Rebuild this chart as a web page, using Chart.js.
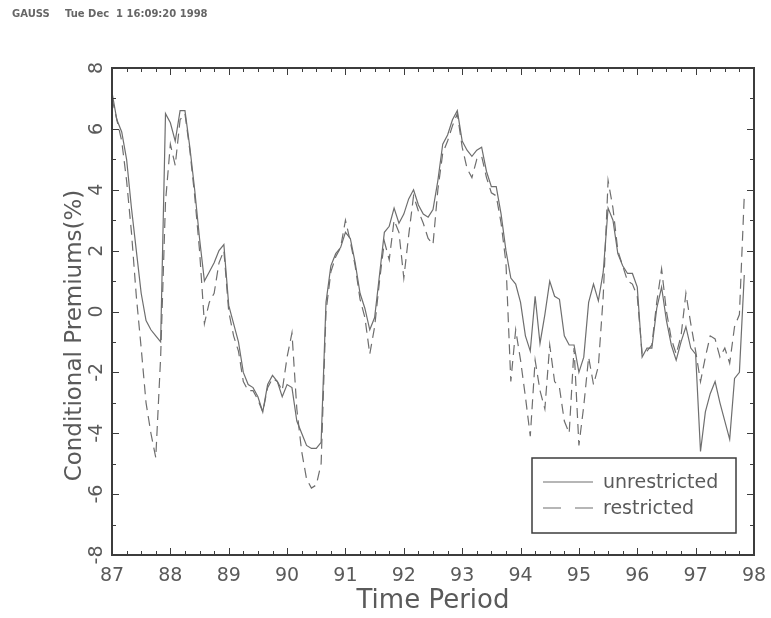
<!DOCTYPE html>
<html>
<head>
<meta charset="utf-8">
<title>Conditional Premiums</title>
<script src="https://cdn.jsdelivr.net/npm/chart.js@4.4.1/dist/chart.umd.min.js"></script>
<style>
    body { margin: 0; background: #fff; }
    #wrap { position: relative; width: 771px; height: 618px; }
    .stamp { position: absolute; top: 8px; font: bold 10px "DejaVu Sans", sans-serif; color: #666; white-space: pre; }
</style>
</head>
<body>
<div id="wrap">
    <canvas id="premiumChart" width="771" height="618"></canvas>
    <div class="stamp" style="left: 12px;">GAUSS</div>
    <div class="stamp" style="left: 65px;">Tue Dec  1 16:09:20 1998</div>
</div>
<script>
// Monthly conditional premiums (%), starting Jan 1987
const startYear = 87;

const unrestricted = [
    7.2, 6.3, 5.9, 5.0, 3.4, 2.0, 0.6, -0.3, -0.6, -0.8, -1.0, 6.5,
    6.2, 5.6, 6.6, 6.6, 5.4, 4.0, 2.4, 1.0, 1.3, 1.6, 2.0, 2.2,
    0.2, -0.4, -1.0, -2.0, -2.4, -2.5, -2.8, -3.3, -2.4, -2.1, -2.3, -2.8,
    -2.4, -2.5, -3.6, -4.0, -4.4, -4.5, -4.5, -4.3, 0.3, 1.5, 1.9, 2.1,
    2.6, 2.4, 1.6, 0.6, 0.1, -0.6, -0.2, 1.2, 2.6, 2.8, 3.4, 2.9,
    3.2, 3.7, 4.0, 3.5, 3.2, 3.1, 3.35, 4.3, 5.5, 5.8, 6.3, 6.6,
    5.6, 5.3, 5.1, 5.3, 5.4, 4.6, 4.1, 4.1, 3.2, 2.0, 1.1, 0.9,
    0.3, -0.8, -1.3, 0.5, -1.05, -0.1, 1.0, 0.5, 0.4, -0.8, -1.1, -1.1,
    -2.0, -1.5, 0.3, 0.9, 0.35, 1.3, 3.4, 3.0, 1.9, 1.5, 1.25, 1.25,
    0.8, -1.5, -1.2, -1.2, 0.1, 0.8, -0.3, -1.1, -1.6, -1.0, -0.5, -1.2,
    -1.4, -4.6, -3.3, -2.7, -2.3, -3.0, -3.6, -4.2, -2.2, -2.0, 1.2
];

const restricted = [
    7.0, 6.3, 5.6, 4.3, 2.6, 0.5, -1.2, -3.0, -4.0, -4.8, -1.5, 3.6,
    5.5, 4.8, 6.3, 6.5, 5.3, 3.8, 2.0, -0.4, 0.3, 0.6, 1.6, 2.0,
    0.0, -0.8, -1.3, -2.3, -2.6, -2.6, -2.9, -3.3, -2.5, -2.2, -2.3, -2.6,
    -1.5, -0.7, -3.2, -4.6, -5.5, -5.8, -5.7, -5.0, 0.0, 1.3, 1.8, 2.1,
    3.0, 2.3, 1.5, 0.4, -0.2, -1.4, -0.5, 1.0, 2.3, 1.7, 3.0, 2.6,
    1.1, 2.5, 3.8, 3.3, 2.9, 2.4, 2.2, 4.0, 5.2, 5.6, 6.1, 6.5,
    5.4, 4.7, 4.4, 5.0, 5.1, 4.4, 3.9, 3.8, 2.9, 1.6, -2.3, -0.6,
    -1.6, -2.8, -4.1, -1.6, -2.6, -3.2, -1.1, -2.3, -2.5, -3.6, -4.0, -1.2,
    -4.4, -3.1, -1.5, -2.4, -1.8, 0.5, 4.3, 3.4, 2.0, 1.5, 1.0, 0.9,
    0.5, -1.4, -1.3, -1.1, 0.3, 1.4, 0.0, -0.9, -1.4, -0.8, 0.6, -0.4,
    -1.3, -2.3, -1.5, -0.8, -0.9, -1.5, -1.2, -1.7, -0.5, -0.1, 3.8
];

const seriesNames = ['unrestricted', 'restricted'];
const xTickYears = [87, 88, 89, 90, 91, 92, 93, 94, 95, 96, 97, 98];
const yTickValues = [-8, -6, -4, -2, 0, 2, 4, 6, 8];

const fontFamily = '"DejaVu Sans", sans-serif';
const inkColor = '#5a5a5a';
const lineColor = '#6e6e6e';
const frameColor = '#3c3c3c';

// Decimal year for each month
const months = unrestricted.map((v, i) => startYear + i / 12);

function toPoints(values) {
    return values.map((v, i) => ({ x: months[i], y: v }));
}

// Frame with inward ticks on all four sides
const frameTicks = {
    id: 'frameTicks',
    afterDatasetsDraw(chart) {
        const { ctx, chartArea: a, scales: { x, y } } = chart;
        ctx.save();
        ctx.strokeStyle = frameColor;
        ctx.lineWidth = 1;
        ctx.beginPath();
        for (let q = Math.ceil(x.min * 4); q <= Math.floor(x.max * 4); q++) {
            const px = Math.round(x.getPixelForValue(q / 4)) + 0.5;
            const len = q % 4 === 0 ? 7 : 4;
            ctx.moveTo(px, a.bottom);
            ctx.lineTo(px, a.bottom - len);
            ctx.moveTo(px, a.top);
            ctx.lineTo(px, a.top + len);
        }
        for (let v = Math.ceil(y.min); v <= Math.floor(y.max); v++) {
            const py = Math.round(y.getPixelForValue(v)) + 0.5;
            const len = v % 2 === 0 ? 7 : 4;
            ctx.moveTo(a.left, py);
            ctx.lineTo(a.left + len, py);
            ctx.moveTo(a.right, py);
            ctx.lineTo(a.right - len, py);
        }
        ctx.stroke();
        ctx.lineWidth = 2;
        ctx.strokeRect(a.left, a.top, a.right - a.left, a.bottom - a.top);
        ctx.restore();
    }
};

// Boxed legend in the lower right corner
const boxLegend = {
    id: 'boxLegend',
    afterDraw(chart) {
        const { ctx, chartArea: a } = chart;
        const w = 204, h = 75;
        const left = a.right - 18 - w;
        const top = a.bottom - 22 - h;
        ctx.save();
        ctx.fillStyle = '#fff';
        ctx.fillRect(left, top, w, h);
        ctx.strokeStyle = frameColor;
        ctx.lineWidth = 1.5;
        ctx.strokeRect(left, top, w, h);

        chart.data.datasets.forEach((ds, i) => {
            const yy = top + 24 + i * 26;
            ctx.strokeStyle = ds.borderColor;
            ctx.lineWidth = 1.2;
            ctx.setLineDash(i === 0 ? [] : [18, 14]);
            ctx.beginPath();
            ctx.moveTo(left + 11, yy);
            ctx.lineTo(left + 61, yy);
            ctx.stroke();
            ctx.setLineDash([]);
            ctx.fillStyle = inkColor;
            ctx.font = '19px ' + fontFamily;
            ctx.textBaseline = 'middle';
            ctx.fillText(ds.label, left + 71, yy + 1);
        });
        ctx.restore();
    }
};

// Rotated y axis title, sitting a little below the axis centre
const yTitle = {
    id: 'yTitle',
    afterDraw(chart) {
        const { ctx, chartArea: a } = chart;
        ctx.save();
        ctx.translate(a.left - 37, (a.top + a.bottom) / 2 + 24);
        ctx.rotate(-Math.PI / 2);
        ctx.font = '23px ' + fontFamily;
        ctx.fillStyle = inkColor;
        ctx.textAlign = 'center';
        ctx.textBaseline = 'middle';
        ctx.fillText('Conditional Premiums(%)', 0, 0);
        ctx.restore();
    }
};

const ctx = document.getElementById('premiumChart').getContext('2d');

new Chart(ctx, {
    type: 'line',
    data: {
        datasets: [{
            label: seriesNames[0],
            data: toPoints(unrestricted),
            borderColor: lineColor,
            borderWidth: 1.2,
            pointRadius: 0,
            tension: 0
        }, {
            label: seriesNames[1],
            data: toPoints(restricted),
            borderColor: lineColor,
            borderWidth: 1.2,
            borderDash: [10, 6],
            pointRadius: 0,
            tension: 0
        }]
    },
    options: {
        responsive: false,
        animation: false,
        devicePixelRatio: 1,
        layout: { padding: { left: 0, right: 17, top: 68, bottom: 0 } },
        plugins: {
            legend: { display: false },
            tooltip: { enabled: false }
        },
        scales: {
            x: {
                type: 'linear',
                min: 87,
                max: 98,
                grid: { display: false, drawTicks: false },
                border: { display: false },
                afterBuildTicks: scale => { scale.ticks = xTickYears.map(v => ({ value: v })); },
                afterFit: scale => {
                    scale.height = 63;
                    scale.paddingLeft = 0;
                    scale.paddingRight = 0;
                },
                ticks: {
                    autoSkip: false,
                    maxRotation: 0,
                    padding: 10,
                    color: inkColor,
                    font: { family: fontFamily, size: 19 },
                    callback: v => String(v)
                },
                title: {
                    display: true,
                    text: 'Time Period',
                    color: inkColor,
                    font: { family: fontFamily, size: 26 },
                    padding: { top: 0, bottom: 1 }
                }
            },
            y: {
                min: -8,
                max: 8,
                grid: { display: false, drawTicks: false },
                border: { display: false },
                afterBuildTicks: scale => { scale.ticks = yTickValues.map(v => ({ value: v })); },
                afterFit: scale => {
                    scale.width = 112;
                    scale.paddingTop = 0;
                    scale.paddingBottom = 0;
                },
                ticks: {
                    minRotation: 90,
                    maxRotation: 90,
                    crossAlign: 'center',
                    padding: 5,
                    color: inkColor,
                    font: { family: fontFamily, size: 19 },
                    callback: v => String(v)
                }
            }
        }
    },
    plugins: [frameTicks, boxLegend, yTitle]
});
</script>
</body>
</html>
